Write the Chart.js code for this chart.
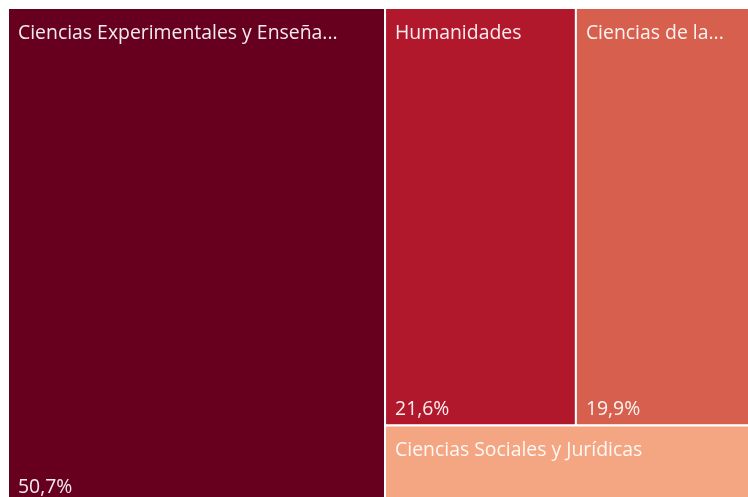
<!DOCTYPE html>
<html>
<head>
<meta charset="utf-8">
<script src="https://cdn.jsdelivr.net/npm/chart.js@4"></script>
<style>
 body{margin:0;background:#fff;}
 #wrap{width:748px;height:497px;}
</style>
</head>
<body>
<div id="wrap"><canvas id="c"></canvas></div>
<script>
let labels=["Ciencias Experimentales y Enseña...","Humanidades","Ciencias de la...","Ciencias Sociales y Jurídicas"];
let values=[50.7,21.6,19.9,7.8];
let colors=["#67001f","#b2182b","#d6604d","#f4a582"];

// layout in data units (0..100 on both axes): first item is a full column,
// next two share a row on top, the last one takes the bottom strip
function layout(){
    let total=values.reduce((a,b)=>a+b,0);
    let w0=values[0]/total*100;
    let rest=total-values[0];
    let rowH=(values[1]+values[2])/rest*100;
    let rowW=100-w0;
    let w1=values[1]/(values[1]+values[2])*rowW;
    return [
        {x0:0,x1:w0,y0:0,y1:100},
        {x0:w0,x1:w0+w1,y0:0,y1:rowH},
        {x0:w0+w1,x1:100,y0:0,y1:rowH},
        {x0:w0,x1:100,y0:rowH,y1:100}
    ];
}

let treemap={
    id:"treemap",
    beforeDatasetsDraw(chart){
        let ctx=chart.ctx, xs=chart.scales.x, ys=chart.scales.y;
        let rects=layout();
        ctx.save();
        rects.forEach((r,i)=>{
            let l=xs.getPixelForValue(r.x0), rr=xs.getPixelForValue(r.x1);
            let t=ys.getPixelForValue(r.y0), b=ys.getPixelForValue(r.y1);
            ctx.fillStyle=colors[i];
            ctx.fillRect(l,t,rr-l,b-t);
            ctx.strokeStyle="#fff"; ctx.lineWidth=2;
            ctx.strokeRect(l,t,rr-l,b-t);
            ctx.fillStyle="rgba(255,255,255,0.92)";
            ctx.font="19.4px 'Open Sans'";
            ctx.textBaseline="middle";
            ctx.fillText(labels[i],l+10,t+25);
            if(b-t>100){
                let txt=values[i].toFixed(1).replace(".",",")+"%";
                ctx.fillText(txt,l+10,b-16);
            }
        });
        ctx.restore();
    }
};

new Chart(document.getElementById("c"),{
    type:"scatter",
    data:{datasets:[{data:[]}]},
    options:{
        responsive:true,maintainAspectRatio:false,animation:false,
        layout:{padding:{top:8,left:8,right:0,bottom:0}},
        plugins:{legend:{display:false},tooltip:{enabled:false}},
        scales:{
            x:{display:false,min:0,max:99.5},
            y:{display:false,min:0,max:98.6,reverse:true}
        }
    },
    plugins:[treemap]
});
</script>
</body>
</html>
